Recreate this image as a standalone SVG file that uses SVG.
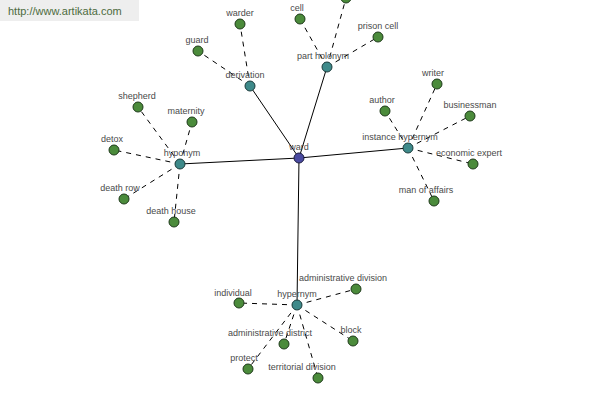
<svg xmlns="http://www.w3.org/2000/svg" width="600" height="400" viewBox="0 0 600 400">
<style>
text{font-family:"Liberation Sans",Arial,sans-serif;font-size:9px;fill:#4a4a4a;text-anchor:middle}
.s{stroke:#000;stroke-width:1;fill:none}
.d{stroke:#000;stroke-width:1;stroke-dasharray:5,5;fill:none}
.leaf{fill:#4b8b3b;stroke:#1e3a1a;stroke-width:1}
.mid{fill:#3e8a8a;stroke:#1c3c3c;stroke-width:1}
.root{fill:#4a4aa0;stroke:#1c1c40;stroke-width:1}
</style>
<rect width="600" height="400" fill="#fff"/>
<rect x="0" y="0" width="139" height="21" fill="#eeeeee"/>
<text x="8" y="15" style="font-family:'Liberation Sans',sans-serif;font-size:11px;fill:#4d6b40;text-anchor:start">http://www.artikata.com</text>
<g id="connectors">
<path class="s" d="M299,158L250,86M299,158L327,67M299,158L408,148M299,158L180,164M299,158L297,305"/>
<path class="d" d="M250,86L240,24M250,86L198,51"/>
<path class="d" d="M327,67L300,19M327,67L346,-2M327,67L378,37"/>
<path class="d" d="M408,148L437,84M408,148L385,111M408,148L470,116M408,148L473,164M408,148L434,201"/>
<path class="d" d="M180,164L138,107M180,164L192,122M180,164L114,150M180,164L124,199M180,164L174,222"/>
<path class="d" d="M297,305L356,289M297,305L239,303M297,305L284,344M297,305L353,341M297,305L248,369M297,305L318,378"/>
</g>
<g id="n-ward"><circle class="root" cx="299" cy="158" r="5"/><text x="299" y="150">ward</text></g>
<g id="n-derivation"><circle class="mid" cx="250" cy="86" r="5"/><text x="245" y="78">derivation</text></g>
<g id="n-warder"><circle class="leaf" cx="240" cy="24" r="5"/><text x="240" y="16">warder</text></g>
<g id="n-guard"><circle class="leaf" cx="198" cy="51" r="5"/><text x="197" y="43">guard</text></g>
<g id="n-part-holonym"><circle class="mid" cx="327" cy="67" r="5"/><text x="323" y="59">part holonym</text></g>
<g id="n-cell"><circle class="leaf" cx="300" cy="19" r="5"/><text x="297" y="11">cell</text></g>
<g id="n-top"><circle class="leaf" cx="346" cy="-2" r="5"/></g>
<g id="n-prison-cell"><circle class="leaf" cx="378" cy="37" r="5"/><text x="378" y="29">prison cell</text></g>
<g id="n-instance-hypernym"><circle class="mid" cx="408" cy="148" r="5"/><text x="400" y="140">instance hypernym</text></g>
<g id="n-writer"><circle class="leaf" cx="437" cy="84" r="5"/><text x="433" y="76">writer</text></g>
<g id="n-author"><circle class="leaf" cx="385" cy="111" r="5"/><text x="382" y="103">author</text></g>
<g id="n-businessman"><circle class="leaf" cx="470" cy="116" r="5"/><text x="470" y="108">businessman</text></g>
<g id="n-economic-expert"><circle class="leaf" cx="473" cy="164" r="5"/><text x="469" y="156">economic expert</text></g>
<g id="n-man-of-affairs"><circle class="leaf" cx="434" cy="201" r="5"/><text x="426" y="193">man of affairs</text></g>
<g id="n-hyponym"><circle class="mid" cx="180" cy="164" r="5"/><text x="182" y="156">hyponym</text></g>
<g id="n-shepherd"><circle class="leaf" cx="138" cy="107" r="5"/><text x="137" y="99">shepherd</text></g>
<g id="n-maternity"><circle class="leaf" cx="192" cy="122" r="5"/><text x="186" y="114">maternity</text></g>
<g id="n-detox"><circle class="leaf" cx="114" cy="150" r="5"/><text x="112" y="142">detox</text></g>
<g id="n-death-row"><circle class="leaf" cx="124" cy="199" r="5"/><text x="120" y="191">death row</text></g>
<g id="n-death-house"><circle class="leaf" cx="174" cy="222" r="5"/><text x="171" y="214">death house</text></g>
<g id="n-hypernym"><circle class="mid" cx="297" cy="305" r="5"/><text x="297" y="297">hypernym</text></g>
<g id="n-administrative-division"><circle class="leaf" cx="356" cy="289" r="5"/><text x="343" y="281">administrative division</text></g>
<g id="n-individual"><circle class="leaf" cx="239" cy="303" r="5"/><text x="233" y="296">individual</text></g>
<g id="n-administrative-district"><circle class="leaf" cx="284" cy="344" r="5"/><text x="270" y="336">administrative district</text></g>
<g id="n-block"><circle class="leaf" cx="353" cy="341" r="5"/><text x="351" y="333">block</text></g>
<g id="n-protect"><circle class="leaf" cx="248" cy="369" r="5"/><text x="244" y="361">protect</text></g>
<g id="n-territorial-division"><circle class="leaf" cx="318" cy="378" r="5"/><text x="302" y="370">territorial division</text></g>
</svg>
